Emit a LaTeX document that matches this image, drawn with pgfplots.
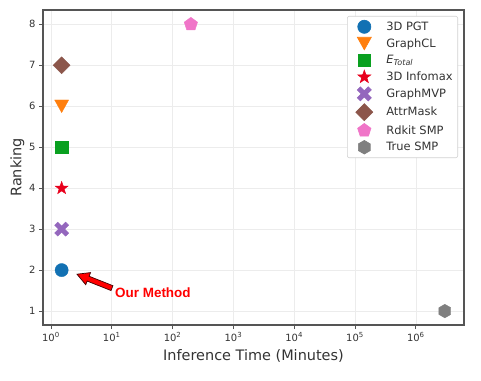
\documentclass[border=0pt]{standalone}
\usepackage{fontspec}
\setmainfont{DejaVu Sans}
\newfontfamily\arialb{Liberation Sans}
\usepackage{pgfplots}
\pgfplotsset{compat=1.18}
\usetikzlibrary{calc}
\definecolor{cblue}{HTML}{1271B3}
\definecolor{corange}{HTML}{FF7F0E}
\definecolor{cgreen}{HTML}{0AA020}
\definecolor{cred}{HTML}{E8001C}
\definecolor{cpurple}{HTML}{9467BD}
\definecolor{cbrown}{HTML}{8C564B}
\definecolor{cpink}{HTML}{F075C8}
\definecolor{cgray}{HTML}{7F7F7F}
\definecolor{txtgray}{HTML}{333333}
\definecolor{framegray}{HTML}{555555}
\pgfdeclareplotmark{hexa*}{%
  \pgfpathmoveto{\pgfpointpolar{90}{\pgfplotmarksize}}%
  \pgfpathlineto{\pgfpointpolar{150}{\pgfplotmarksize}}%
  \pgfpathlineto{\pgfpointpolar{210}{\pgfplotmarksize}}%
  \pgfpathlineto{\pgfpointpolar{270}{\pgfplotmarksize}}%
  \pgfpathlineto{\pgfpointpolar{330}{\pgfplotmarksize}}%
  \pgfpathlineto{\pgfpointpolar{30}{\pgfplotmarksize}}%
  \pgfpathclose\pgfusepathqfillstroke}
\pgfdeclareplotmark{fstar*}{%
  \pgfpathmoveto{\pgfpointpolar{90}{\pgfplotmarksize}}%
  \pgfpathlineto{\pgfpointpolar{126}{0.4\pgfplotmarksize}}%
  \pgfpathlineto{\pgfpointpolar{162}{\pgfplotmarksize}}%
  \pgfpathlineto{\pgfpointpolar{198}{0.4\pgfplotmarksize}}%
  \pgfpathlineto{\pgfpointpolar{234}{\pgfplotmarksize}}%
  \pgfpathlineto{\pgfpointpolar{270}{0.4\pgfplotmarksize}}%
  \pgfpathlineto{\pgfpointpolar{306}{\pgfplotmarksize}}%
  \pgfpathlineto{\pgfpointpolar{342}{0.4\pgfplotmarksize}}%
  \pgfpathlineto{\pgfpointpolar{18}{\pgfplotmarksize}}%
  \pgfpathlineto{\pgfpointpolar{54}{0.4\pgfplotmarksize}}%
  \pgfpathclose\pgfusepathqfillstroke}
\pgfdeclareplotmark{rdiamond*}{%
  \pgfpathmoveto{\pgfqpoint{0pt}{\pgfplotmarksize}}%
  \pgfpathlineto{\pgfqpoint{\pgfplotmarksize}{0pt}}%
  \pgfpathlineto{\pgfqpoint{0pt}{-\pgfplotmarksize}}%
  \pgfpathlineto{\pgfqpoint{-\pgfplotmarksize}{0pt}}%
  \pgfpathclose\pgfusepathqfillstroke}
\pgfdeclareplotmark{tridown*}{%
  \pgfpathmoveto{\pgfqpoint{0pt}{-0.9\pgfplotmarksize}}%
  \pgfpathlineto{\pgfqpoint{-\pgfplotmarksize}{0.9\pgfplotmarksize}}%
  \pgfpathlineto{\pgfqpoint{\pgfplotmarksize}{0.9\pgfplotmarksize}}%
  \pgfpathclose\pgfusepathqfillstroke}
\pgfdeclareplotmark{fatx*}{%
  \pgfpathmoveto{\pgfqpoint{-0.636\pgfplotmarksize}{1.131\pgfplotmarksize}}%
  \pgfpathlineto{\pgfqpoint{0pt}{0.495\pgfplotmarksize}}%
  \pgfpathlineto{\pgfqpoint{0.636\pgfplotmarksize}{1.131\pgfplotmarksize}}%
  \pgfpathlineto{\pgfqpoint{1.131\pgfplotmarksize}{0.636\pgfplotmarksize}}%
  \pgfpathlineto{\pgfqpoint{0.495\pgfplotmarksize}{0pt}}%
  \pgfpathlineto{\pgfqpoint{1.131\pgfplotmarksize}{-0.636\pgfplotmarksize}}%
  \pgfpathlineto{\pgfqpoint{0.636\pgfplotmarksize}{-1.131\pgfplotmarksize}}%
  \pgfpathlineto{\pgfqpoint{0pt}{-0.495\pgfplotmarksize}}%
  \pgfpathlineto{\pgfqpoint{-0.636\pgfplotmarksize}{-1.131\pgfplotmarksize}}%
  \pgfpathlineto{\pgfqpoint{-1.131\pgfplotmarksize}{-0.636\pgfplotmarksize}}%
  \pgfpathlineto{\pgfqpoint{-0.495\pgfplotmarksize}{0pt}}%
  \pgfpathlineto{\pgfqpoint{-1.131\pgfplotmarksize}{0.636\pgfplotmarksize}}%
  \pgfpathclose\pgfusepathqfillstroke}
\pgfplotsset{lm/.style={only marks,
  legend image code/.code={\path[draw=none,fill=none] (0bp,-1bp) rectangle (34bp,1bp); \draw[##1] plot coordinates {(14bp,0bp)};}}}
\begin{document}
\begin{tikzpicture}
\path[use as bounding box] (-43bp,-56bp) rectangle (438bp,325bp);
\begin{axis}[
  at={(0,0)}, anchor=south west,
  scale only axis, width=421bp, height=315bp,
  xmode=log, log basis x=10,
  xmin=0.74, xmax=6.2e6, ymin=0.66, ymax=8.35,
  xtick={1,10,100,1000,10000,100000,1000000},
  xticklabels={10\textsuperscript{0},10\textsuperscript{1},10\textsuperscript{2},10\textsuperscript{3},10\textsuperscript{4},10\textsuperscript{5},10\textsuperscript{6}},
  ytick={1,...,8},
  /pgf/number format/assume math mode=true,
  tick label style={font=\fontsize{10}{12}\selectfont, text=txtgray},
  xtick pos=bottom, ytick pos=left, tick align=outside,
  major tick length=4bp, minor tick length=2.2bp,
  every tick/.style={framegray, line width=0.7bp},
  axis line style={framegray, line width=1.2bp},
  grid=major, major grid style={gray!15, line width=0.6bp},
  xlabel={Inference Time (Minutes)}, ylabel={Ranking},
  label style={font=\fontsize{14.5}{17}\selectfont, text=txtgray},
  xlabel style={yshift=-1bp},
  ylabel style={yshift=-2bp},
  legend cell align=left,
  legend style={at={(1,1)}, anchor=north east, xshift=-6bp, yshift=-6bp,
    draw=gray!35, rounded corners=2bp, line width=0.6bp,
    font=\fontsize{11.5}{13}\selectfont, text=txtgray,
    row sep=2.7bp, inner xsep=3bp, inner ysep=3.5bp},
]
\addplot[lm, mark=*, mark size=6.6bp, cblue, mark options={fill=cblue, draw=cblue}] coordinates {(1.5,2)};
\addlegendentry{3D PGT}
\addplot[lm, mark=tridown*, mark size=7bp, corange, mark options={fill=corange, draw=corange}] coordinates {(1.5,6)};
\addlegendentry{GraphCL}
\addplot[lm, mark=square*, mark size=6.3bp, cgreen, mark options={fill=cgreen, draw=cgreen}] coordinates {(1.5,5)};
\addlegendentry{\textit{E}\textsubscript{\textit{Total}}}
\addplot[lm, mark=fstar*, mark size=6.8bp, cred, mark options={fill=cred, draw=cred}] coordinates {(1.5,4)};
\addlegendentry{3D Infomax}
\addplot[lm, mark=fatx*, mark size=6.2bp, cpurple, mark options={fill=cpurple, draw=cpurple}] coordinates {(1.5,3)};
\addlegendentry{GraphMVP}
\addplot[lm, mark=rdiamond*, mark size=8.5bp, cbrown, mark options={fill=cbrown, draw=cbrown}] coordinates {(1.5,7)};
\addlegendentry{AttrMask}
\addplot[lm, mark=pentagon*, mark size=7bp, cpink, mark options={fill=cpink, draw=cpink}] coordinates {(200,8)};
\addlegendentry{Rdkit SMP}
\addplot[lm, mark=hexa*, mark size=6.8bp, cgray, mark options={fill=cgray, draw=cgray}] coordinates {(3e6,1)};
\addlegendentry{True SMP}
\coordinate (A) at (axis cs:10.07,1.56);
\coordinate (B) at (axis cs:2.68,1.90);
\node[anchor=west, inner sep=0pt, text=red, font=\arialb\bfseries\fontsize{13.5}{15}\selectfont] at (axis cs:11.3,1.44) {Our Method};
\end{axis}
\coordinate (H) at ($(B)!12bp!(A)$);
\filldraw[fill=red, draw=black!75!red, line width=0.7bp, line join=miter]
  (B) -- ($(H)!6.5bp!90:(A)$) -- ($(H)!2.6bp!90:(A)$) -- ($(A)!2.6bp!-90:(B)$)
  -- ($(A)!2.6bp!90:(B)$) -- ($(H)!2.6bp!-90:(A)$) -- ($(H)!6.5bp!-90:(A)$) -- cycle;
\end{tikzpicture}
\end{document}
